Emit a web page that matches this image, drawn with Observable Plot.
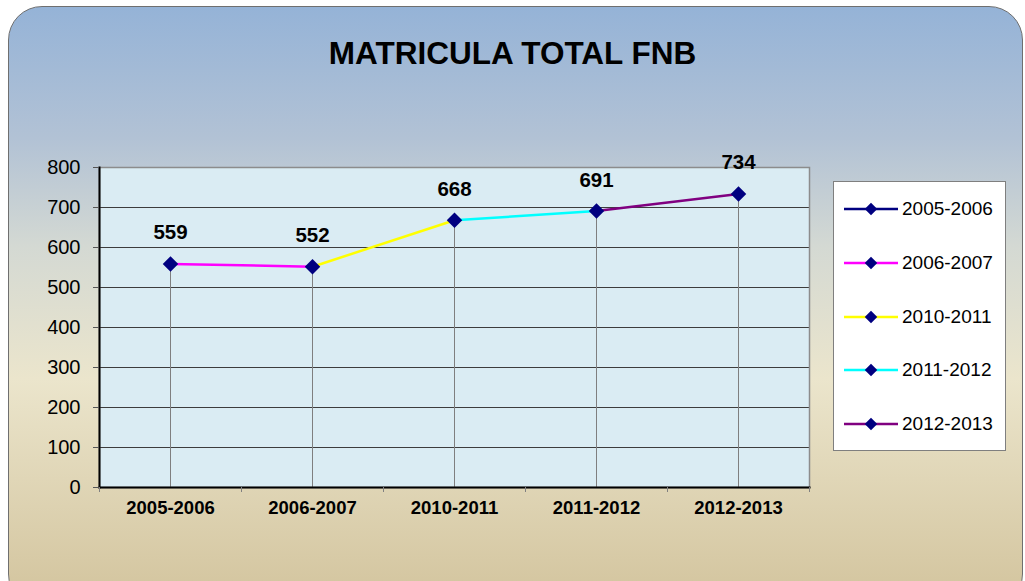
<!DOCTYPE html>
<html>
<head>
<meta charset="utf-8">
<script src="https://cdn.jsdelivr.net/npm/d3@7"></script>
<script src="https://cdn.jsdelivr.net/npm/@observablehq/plot@0.6"></script>
<style>
  html, body { margin: 0; padding: 0; background: #ffffff; }
  #wrap { position: relative; width: 1025px; height: 581px; overflow: hidden; font-family: "Liberation Sans", Arial, sans-serif; }
  #bg { position: absolute; left: 8px; top: 6px; width: 1013px; height: 600px; border: 1px solid #6f6f6f; border-radius: 34px;
        background: linear-gradient(to bottom, #95b3d7 0%, #b2c2d5 22%, #d4d9d3 40%, #ebe5cc 62%, #d2c39c 100%); }
  #title { position: absolute; left: 0; width: 1025px; top: 35px; text-align: center; font-weight: bold; font-size: 31.5px; color: #000; }
  #chart { position: absolute; left: 0; top: 0; }
  #legend { position: absolute; left: 833px; top: 181px; width: 171px; height: 268px; background: #fff; border: 1px solid #7f7f7f; }
  .item { position: absolute; left: 10px; height: 20px; display: flex; align-items: center; font-size: 19px; color: #000; }
  .item svg { margin-right: 4px; }
</style>
</head>
<body>
<div id="wrap">
  <div id="bg"></div>
  <div id="title">MATRICULA TOTAL FNB</div>
  <div id="chart"></div>
  <div id="legend"></div>
</div>
<script>
const categories = ["2005-2006", "2006-2007", "2010-2011", "2011-2012", "2012-2013"];
const values = [559, 552, 668, 691, 734];
const seriesColors = ["#000080", "#ff00ff", "#ffff00", "#00ffff", "#800080"];
const yTicks = [0, 100, 200, 300, 400, 500, 600, 700, 800];

const data = categories.map((c, i) => ({cat: c, value: values[i], color: seriesColors[i]}));
const segments = d3.range(categories.length - 1).map(i => ({
  x1: categories[i], y1: values[i], x2: categories[i + 1], y2: values[i + 1], color: seriesColors[i + 1]
}));

const chart = Plot.plot({
  width: 1025,
  height: 581,
  marginLeft: 99,
  marginRight: 216,
  marginTop: 167,
  marginBottom: 94,
  style: {background: "transparent", fontFamily: "'Liberation Sans', Arial, sans-serif", overflow: "visible", color: "#000"},
  x: {type: "band", domain: categories, padding: 0, label: null},
  y: {domain: [0, 800], label: null},
  color: {type: "identity"},
  marks: [
    Plot.frame({fill: "#daecf3", stroke: null}),
    Plot.gridY(yTicks, {stroke: "#3c3c3c", strokeOpacity: 1, strokeWidth: 1}),
    Plot.ruleX(data, {x: "cat", y1: 0, y2: "value", stroke: "#7f7f7f", strokeWidth: 1}),
    Plot.frame({stroke: "#8c8c8c", strokeWidth: 1.5}),
    Plot.frame({anchor: "left", stroke: "#000", strokeWidth: 2}),
    Plot.frame({anchor: "bottom", stroke: "#000", strokeWidth: 2}),
    Plot.axisY(yTicks, {tickSize: 6, tickPadding: 13, fontSize: 20, stroke: "#555", fill: "#000", label: null}),
    Plot.axisX({tickSize: 5, tickFormat: () => "", dx: -71, stroke: "#808080", label: null}),
    Plot.axisX([categories[categories.length - 1]], {tickSize: 5, tickFormat: () => "", dx: 71, stroke: "#808080", label: null}),
    Plot.axisX({tickSize: 0, tickPadding: 13, fontSize: 18.5, fontWeight: "bold", fill: "#000", label: null}),
    Plot.link(segments, {x1: "x1", y1: "y1", x2: "x2", y2: "y2", stroke: "color", strokeWidth: 2.5}),
    Plot.dot(data, {x: "cat", y: "value", symbol: "diamond2", r: 7, fill: "#000080", stroke: "none"}),
    Plot.text(data, {x: "cat", y: "value", text: d => String(d.value), dy: -31, fontSize: 20.5, fontWeight: "bold", fill: "#000"})
  ]
});
document.getElementById("chart").appendChild(chart);

// Legend
const legend = document.getElementById("legend");
const legendTops = [17, 71, 125, 178, 232];
categories.forEach((c, i) => {
  const item = document.createElement("div");
  item.className = "item";
  item.style.top = legendTops[i] + "px";
  const svg = d3.create("svg").attr("width", 54).attr("height", 20);
  svg.append("line").attr("x1", 0).attr("x2", 54).attr("y1", 10).attr("y2", 10)
    .attr("stroke", seriesColors[i]).attr("stroke-width", 2.5);
  svg.append("path").attr("d", d3.symbol(d3.symbolDiamond2, 100)()).attr("transform", "translate(27,10)").attr("fill", "#000080");
  item.appendChild(svg.node());
  const span = document.createElement("span");
  span.textContent = c;
  item.appendChild(span);
  legend.appendChild(item);
});
</script>
</body>
</html>
